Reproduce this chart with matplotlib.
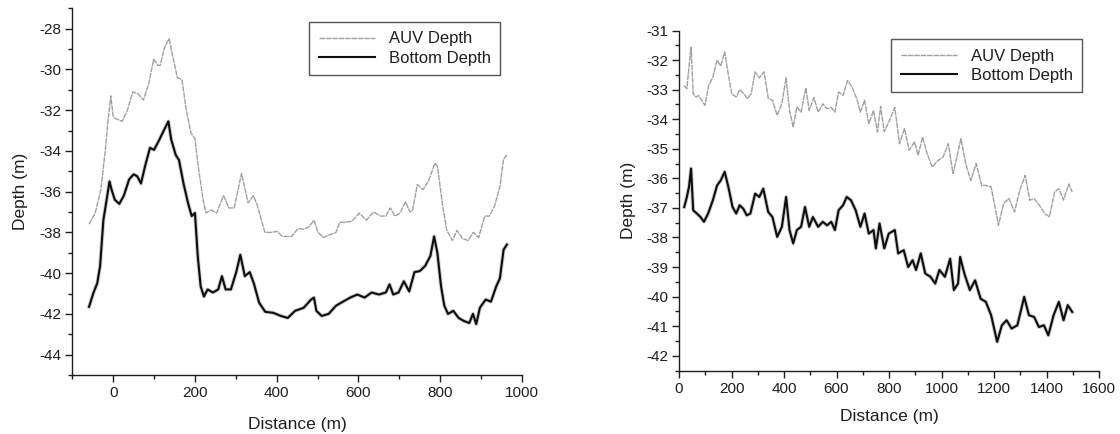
import matplotlib
matplotlib.use("Agg")
import matplotlib.pyplot as plt
from matplotlib.ticker import MultipleLocator

plt.rcParams['font.family'] = ['Liberation Sans', 'DejaVu Sans']
plt.rcParams['axes.unicode_minus'] = False

# ---------------- Left chart data ----------------
left_auv_x = [-59, -44, -30, -19, -13, -6, 0, 4, 22, 35, 48, 61, 74, 87, 99, 109, 115, 126, 137, 146,
              157, 168, 179, 190, 200, 209, 220, 227, 240, 253, 270, 283, 296, 314, 330, 343, 353, 371,
              388, 401, 414, 436, 453, 466, 480, 491, 501, 514, 532, 545, 554, 571, 584, 602, 619, 637,
              654, 667, 678, 689, 702, 715, 726, 732, 744, 758, 771, 787, 793, 806, 816, 830, 841, 854,
              868, 881, 894, 909, 920, 933, 946, 955, 963]
left_auv_y = [-37.6, -37.05, -35.9, -33.9, -32.6, -31.3, -32.3, -32.4, -32.55, -32.0, -31.1, -31.2, -31.5,
              -30.7, -29.5, -29.8, -29.8, -28.9, -28.5, -29.4, -30.4, -30.5, -32.0, -33.1, -33.4, -34.9,
              -36.4, -37.05, -36.9, -37.05, -36.2, -36.8, -36.8, -35.1, -36.55, -36.2, -36.7, -38.0, -38.0,
              -37.95, -38.2, -38.2, -37.8, -37.85, -37.7, -37.4, -38.0, -38.25, -38.1, -38.0, -37.5, -37.5,
              -37.45, -37.05, -37.4, -37.0, -37.2, -37.2, -36.8, -37.2, -37.05, -36.5, -37.0, -36.95,
              -35.65, -35.9, -35.5, -34.6, -34.75, -36.7, -37.9, -38.4, -37.9, -38.3, -38.4, -38.0, -38.25,
              -37.2, -37.2, -36.7, -35.75, -34.4, -34.2]

left_bot_x = [-59, -48, -39, -32, -24, -16, -9, -4, 4, 15, 26, 39, 50, 59, 68, 78, 90, 100, 113, 125, 135,
              142, 153, 161, 172, 183, 192, 200, 207, 214, 222, 231, 244, 257, 266, 275, 288, 301, 311, 322,
              334, 344, 357, 372, 392, 410, 427, 445, 466, 484, 491, 497, 510, 527, 545, 562, 580, 597, 615,
              632, 650, 667, 676, 685, 698, 711, 724, 737, 750, 763, 776, 785, 793, 802, 810, 819, 832, 845,
              858, 871, 880, 888, 897, 911, 924, 937, 946, 955, 963]
left_bot_y = [-41.65, -40.95, -40.5, -39.65, -37.4, -36.4, -35.5, -35.9, -36.4, -36.6, -36.2, -35.4, -35.15,
              -35.25, -35.6, -34.75, -33.85, -33.95, -33.45, -32.95, -32.55, -33.45, -34.2, -34.45, -35.6,
              -36.55, -37.2, -37.05, -39.2, -40.65, -41.15, -40.8, -40.95, -40.8, -40.15, -40.8, -40.8,
              -39.95, -39.1, -40.15, -39.95, -40.5, -41.45, -41.9, -41.95, -42.1, -42.2, -41.85, -41.7,
              -41.3, -41.2, -41.85, -42.1, -42.0, -41.6, -41.4, -41.2, -41.05, -41.2, -40.95, -41.05,
              -40.95, -40.55, -41.05, -40.95, -40.4, -40.9, -39.95, -39.9, -39.65, -39.15, -38.2, -39.0,
              -40.65, -41.6, -42.0, -41.85, -42.2, -42.35, -42.45, -42.0, -42.5, -41.7, -41.3, -41.4,
              -40.65, -40.25, -38.85, -38.6]

# ---------------- Right chart data ----------------
right_auv_x = [20, 30, 38, 46, 54, 65, 75, 86, 99, 113, 129, 145, 159, 174, 188, 201, 218, 231, 247, 261,
               275, 290, 306, 324, 340, 356, 374, 392, 408, 421, 435, 449, 465, 483, 496, 514, 530, 548,
               564, 580, 594, 608, 625, 642, 659, 677, 691, 707, 723, 741, 756, 768, 782, 799, 822, 840,
               859, 877, 897, 911, 928, 945, 965, 986, 1006, 1026, 1044, 1060, 1074, 1094, 1112, 1132,
               1153, 1169, 1189, 1217, 1237, 1257, 1278, 1298, 1319, 1336, 1353, 1373, 1393, 1411, 1431,
               1447, 1465, 1485, 1498]
right_auv_y = [-32.86, -32.97, -32.24, -31.56, -33.14, -33.25, -33.2, -33.36, -33.53, -32.86, -32.58, -32.0,
               -32.2, -31.73, -32.5, -33.14, -33.25, -33.0, -33.14, -33.3, -33.14, -32.4, -32.6, -32.4,
               -33.3, -33.36, -33.87, -33.47, -32.6, -33.7, -34.26, -33.58, -33.76, -32.94, -33.7, -33.27,
               -33.76, -33.48, -33.65, -33.6, -33.76, -33.08, -33.2, -32.69, -32.91, -33.3, -33.76, -33.36,
               -34.15, -33.7, -34.43, -33.57, -34.43, -34.1, -33.6, -34.83, -34.32, -35.05, -34.77, -35.22,
               -34.6, -35.16, -35.62, -35.4, -35.28, -34.83, -35.84, -35.22, -34.66, -35.57, -36.07, -35.5,
               -36.24, -36.24, -36.29, -37.59, -36.85, -36.68, -37.14, -36.41, -35.9, -36.74, -36.69,
               -36.91, -37.19, -37.3, -36.46, -36.35, -36.74, -36.19, -36.46]

right_bot_x = [20, 30, 38, 46, 54, 68, 82, 95, 111, 129, 145, 159, 174, 188, 204, 218, 231, 245, 258, 272,
               290, 306, 321, 340, 356, 374, 392, 408, 421, 435, 449, 465, 480, 496, 510, 530, 548, 564,
               580, 594, 608, 625, 639, 655, 673, 691, 707, 723, 741, 750, 764, 782, 799, 822, 835, 856,
               873, 890, 903, 921, 938, 958, 976, 992, 1013, 1033, 1047, 1063, 1071, 1087, 1108, 1128,
               1149, 1169, 1189, 1212, 1230, 1248, 1267, 1289, 1315, 1333, 1353, 1371, 1390, 1407, 1427,
               1447, 1465, 1481, 1498]
right_bot_y = [-36.97, -36.63, -36.29, -35.67, -37.08, -37.19, -37.31, -37.47, -37.19, -36.74, -36.24,
               -36.07, -35.78, -36.29, -36.97, -37.19, -36.91, -37.03, -37.25, -37.19, -36.52, -36.63,
               -36.35, -37.14, -37.31, -37.98, -37.64, -36.63, -37.75, -38.2, -37.75, -37.64, -36.97,
               -37.64, -37.31, -37.64, -37.47, -37.59, -37.47, -37.75, -37.08, -36.91, -36.63, -36.74,
               -37.08, -37.64, -37.19, -37.87, -37.75, -38.37, -37.53, -38.37, -37.87, -37.75, -38.54,
               -38.43, -39.0, -38.77, -39.1, -38.54, -39.22, -39.33, -39.56, -39.1, -39.33, -38.72, -39.78,
               -39.56, -38.66, -39.22, -39.78, -39.45, -40.07, -40.18, -40.63, -41.53, -40.97, -40.8,
               -41.08, -40.97, -40.01, -40.63, -40.69, -41.03, -40.97, -41.31, -40.63, -40.18, -40.8,
               -40.29, -40.52]

labels = ["AUV Depth", "Bottom Depth"]
xlabel = "Distance (m)"
ylabel = "Depth (m)"

W, H = 1120, 434
fig = plt.figure(figsize=(W / 100, H / 100), dpi=100)
TXT = "#1e1e1e"


def ax_rect(l, r, b, t):
    return [l / W, 1 - b / H, (r - l) / W, (b - t) / H]


def style(ax, l, r, b, t, xlab_y, ylab_x):
    for s in ["top", "right"]:
        ax.spines[s].set_visible(False)
    for s in ["left", "bottom"]:
        ax.spines[s].set_linewidth(1.0)
        ax.spines[s].set_color(TXT)
    ax.tick_params(which="major", direction="out", length=5, width=1, labelsize=11,
                   colors=TXT, pad=3)
    ax.tick_params(which="minor", direction="out", length=3, width=1, colors=TXT)
    ax.set_xlabel(xlabel, fontsize=12.5, color=TXT, va="center")
    ax.set_ylabel(ylabel, fontsize=12.5, color=TXT, va="center")
    ax.xaxis.set_label_coords(0.5, (b - xlab_y) / (b - t))
    ax.yaxis.set_label_coords((ylab_x - l) / (r - l), 0.5)


def draw(ax, ax_x, ax_y, bx, by):
    ax.plot(bx, by, color="#9a9a9a", lw=2.8, alpha=0.5)
    la, = ax.plot(ax_x, ax_y, color="#a0a0a0", lw=1.0, linestyle=(0, (4, 0.6)))
    lb, = ax.plot(bx, by, color="#0e0e0e", lw=1.5)
    return la, lb


def add_legend(ax, handles, right_px, top_px):
    leg = ax.legend(handles, labels, loc="upper right",
                    bbox_to_anchor=(right_px / W, 1 - top_px / H),
                    bbox_transform=fig.transFigure, fancybox=False, fontsize=12,
                    handlelength=3.4, borderpad=0.55, labelspacing=0.25,
                    edgecolor="#555555", framealpha=1)
    leg.get_frame().set_linewidth(1.0)
    for t in leg.get_texts():
        t.set_color(TXT)


# Left axes
L = (72.3, 522, 375, 8.25)
axL = fig.add_axes(ax_rect(*L))
la, lb = draw(axL, left_auv_x, left_auv_y, left_bot_x, left_bot_y)
axL.set_xlim(-100, 1000)
axL.set_ylim(-45, -27)
axL.xaxis.set_major_locator(MultipleLocator(200))
axL.xaxis.set_minor_locator(MultipleLocator(100))
axL.yaxis.set_major_locator(MultipleLocator(2))
axL.yaxis.set_minor_locator(MultipleLocator(1))
style(axL, *L, xlab_y=425, ylab_x=20)
add_legend(axL, [la, lb], 508, 14)

# Right axes
R = (679, 1099, 370.5, 30.5)
axR = fig.add_axes(ax_rect(*R))
la2, lb2 = draw(axR, right_auv_x, right_auv_y, right_bot_x, right_bot_y)
axR.set_xlim(0, 1600)
axR.set_ylim(-42.5, -31)
axR.xaxis.set_major_locator(MultipleLocator(200))
axR.xaxis.set_minor_locator(MultipleLocator(100))
axR.yaxis.set_major_locator(MultipleLocator(1))
axR.yaxis.set_minor_locator(MultipleLocator(0.5))
style(axR, *R, xlab_y=417, ylab_x=628)
add_legend(axR, [la2, lb2], 1090, 31)

fig.savefig("out.png", dpi=100)
